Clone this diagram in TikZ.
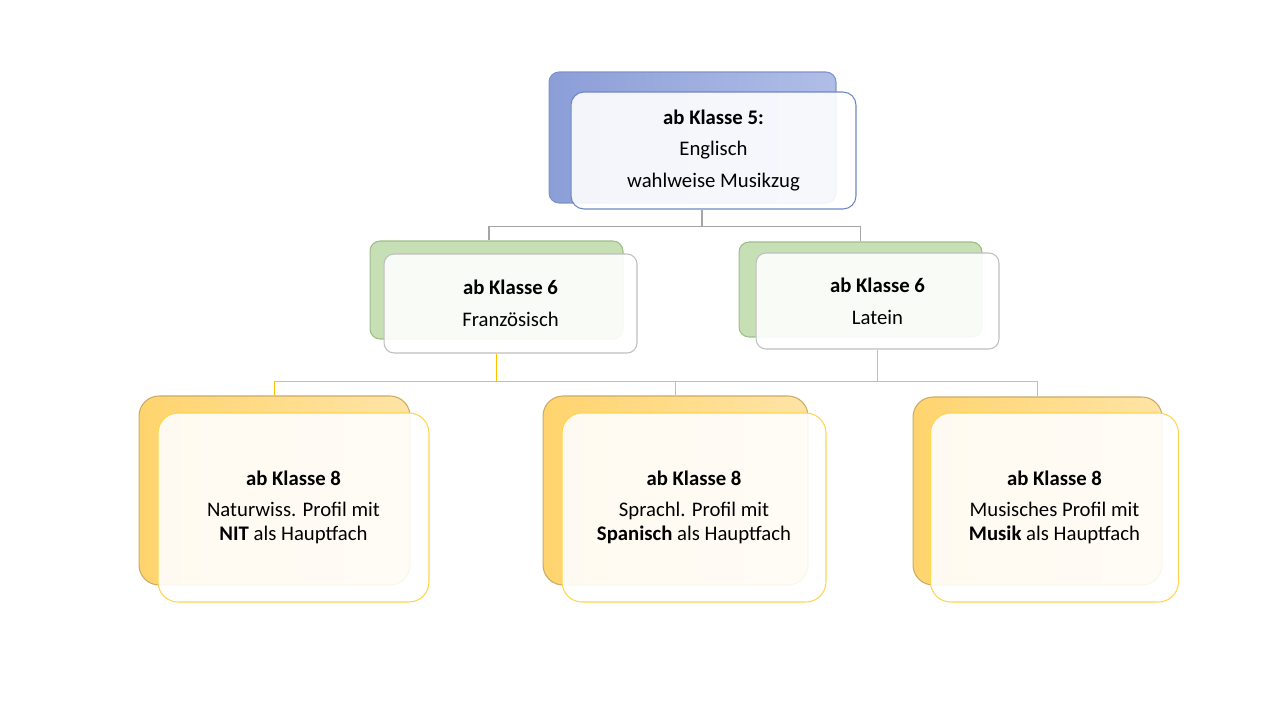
\documentclass[tikz,border=0pt]{standalone}
\usepackage{fontspec}
\setmainfont{Carlito}
\usetikzlibrary{calc}

\definecolor{blueL}{HTML}{8B9ED7}
\definecolor{blueR}{HTML}{B0BEE7}
\definecolor{blueEdge}{HTML}{7F93C9}
\definecolor{blueFrame}{HTML}{6F88C2}
\definecolor{greenFill}{HTML}{C6DFB4}
\definecolor{greenEdge}{HTML}{9EBD89}
\definecolor{orangeL}{HTML}{FFD46E}
\definecolor{orangeR}{HTML}{FFE4A6}
\definecolor{orangeEdge}{HTML}{CBAA66}
\definecolor{grayFrame}{HTML}{BFBFBF}
\definecolor{yellowFrame}{HTML}{FFD54F}
\definecolor{grayWire}{HTML}{A5A5A5}
\definecolor{yellowWire}{HTML}{FFC000}

\begin{document}
\begin{tikzpicture}[x=0.02cm, y=-0.02cm,
    backbox/.style={draw, rectangle, line width=0.6pt, inner sep=0pt},
    frontbox/.style={draw, rectangle, line width=0.6pt, inner sep=0pt,
                     fill=white, fill opacity=0.9, text opacity=1,
                     align=center, font=\fontsize{11.8}{13.7}\selectfont},
    bluebox/.style={backbox, draw=blueEdge, left color=blueL, right color=blueR,
                    rounded corners=0.2cm},
    greenbox/.style={backbox, draw=greenEdge, fill=greenFill, rounded corners=0.2cm},
    orangebox/.style={backbox, draw=orangeEdge, left color=orangeL, right color=orangeR,
                      rounded corners=0.4cm},
    wire/.style={line width=0.8pt}
]
    \useasboundingbox (0,0) rectangle (1267,713);

    % top level
    \node[bluebox, minimum width=5.74cm, minimum height=2.62cm] (tb) at (692.5,137.5) {};
    \node[frontbox, draw=blueFrame, rounded corners=0.26cm,
          minimum width=5.70cm, minimum height=2.34cm] (tf) at (713.5,150.5)
         {\textbf{ab Klasse 5:}\\[4.3pt] Englisch\\[4.3pt] wahlweise Musikzug};

    % second level
    \node[greenbox, minimum width=5.06cm, minimum height=1.96cm] (mlb) at (496.5,290) {};
    \node[frontbox, draw=grayFrame, rounded corners=0.2cm,
          minimum width=5.06cm, minimum height=1.98cm] (mlf) at (510.5,303.5)
         {\textbf{ab Klasse 6}\\[4.3pt] Französisch};
    \node[greenbox, minimum width=4.86cm, minimum height=1.90cm] (mrb) at (860.5,289.5) {};
    \node[frontbox, draw=grayFrame, rounded corners=0.2cm,
          minimum width=4.86cm, minimum height=1.92cm] (mrf) at (877.5,301)
         {\textbf{ab Klasse 6}\\[4.3pt] Latein};

    % third level
    \node[orangebox, minimum width=5.42cm, minimum height=3.78cm] (blb) at (274.5,490.5) {};
    \node[frontbox, draw=yellowFrame, rounded corners=0.4cm,
          minimum width=5.42cm, minimum height=3.78cm] (blf) at (293.5,507.5)
         {\textbf{ab Klasse 8}\\[3.7pt] Naturwiss. Profil mit\\ \textbf{NIT} als Hauptfach};
    \node[orangebox, minimum width=5.30cm, minimum height=3.78cm] (bmb) at (675.5,490.5) {};
    \node[frontbox, draw=yellowFrame, rounded corners=0.4cm,
          minimum width=5.28cm, minimum height=3.78cm] (bmf) at (694,507.5)
         {\textbf{ab Klasse 8}\\[3.7pt] Sprachl. Profil mit\\ \textbf{Spanisch} als Hauptfach};
    \node[orangebox, minimum width=4.98cm, minimum height=3.76cm] (brb) at (1037.5,491) {};
    \node[frontbox, draw=yellowFrame, rounded corners=0.4cm,
          minimum width=4.96cm, minimum height=3.78cm] (brf) at (1054.5,507.5)
         {\textbf{ab Klasse 8}\\[3.7pt] Musisches Profil mit\\ \textbf{Musik} als Hauptfach};

    % connectors
    \coordinate (gbus) at (702,226.5);
    \coordinate (ybus) at (675.5,381.5);
    \draw[wire, grayWire] (gbus |- tf.south) -- (gbus) -| ([xshift=-0.15cm]mlb.north);
    \draw[wire, grayWire] (gbus) -| (mrb.north);

    \draw[wire, yellowWire] (blb.north) |- (ybus) -| (brb.north);
    \draw[wire, yellowWire] (ybus) -- (bmb.north);
    \draw[wire, yellowWire] (mlf.south -| mlb.north) -- (mlb.north |- ybus);
    \draw[wire, yellowWire] (mrf.south) -- (mrf.south |- ybus);
\end{tikzpicture}
\end{document}
